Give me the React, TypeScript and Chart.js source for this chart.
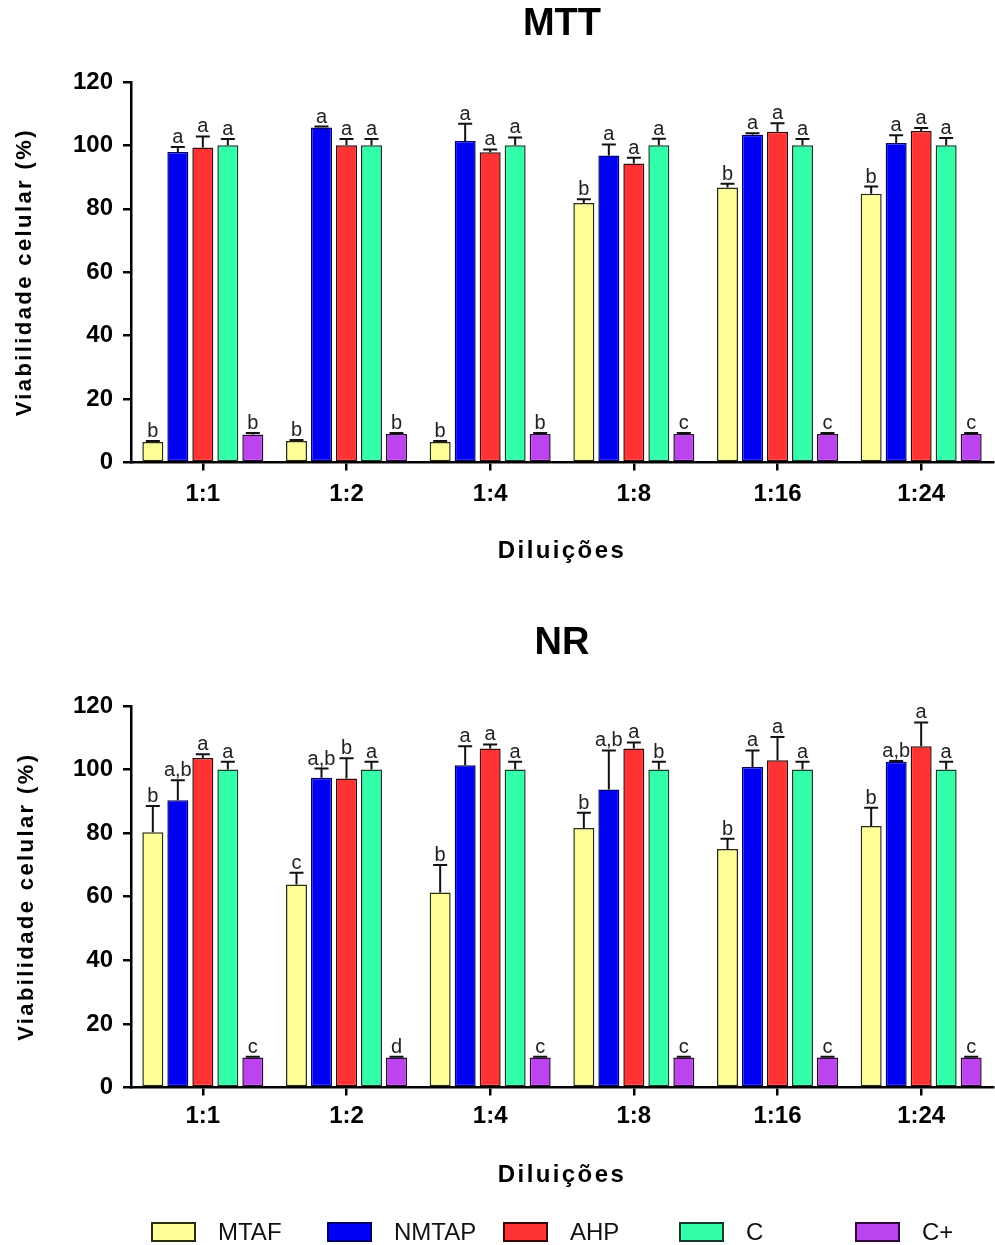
import React, { useEffect, useRef } from 'react';
import { Chart, registerables } from 'chart.js';

Chart.register(...registerables);

const FONT = "'Liberation Sans', Arial, Helvetica, sans-serif";
Chart.defaults.font.family = FONT;
Chart.defaults.color = '#000';

// ---------- data ----------
const categories = ['1:1', '1:2', '1:4', '1:8', '1:16', '1:24'];
const seriesNames = ['MTAF', 'NMTAP', 'AHP', 'C', 'C+'];
const seriesColors = ['#FFFF99', '#0000F2', '#FF3333', '#33FFAA', '#BB44EE'];
const seriesBorders = ['#2b2b10', '#000070', '#3a0808', '#143a28', '#2e0a3c'];

const yTicksMax = 120;
const yTicksStep = 20;

// MTT
const mttMTAF = [6.5, 6.8, 6.5, 81.8, 86.7, 84.7];
const mttMTAFErr = [0.3, 0.3, 0.3, 1.2, 1.2, 2.3];
const mttNMTAP = [97.9, 105.6, 101.4, 96.8, 103.3, 100.7];
const mttNMTAPErr = [1.6, 0.3, 5.4, 3.5, 0.5, 2.5];
const mttAHP = [99.3, 100, 97.8, 94.3, 104.3, 104.5];
const mttAHPErr = [3.5, 2, 0.9, 1.8, 2.7, 1];
const mttC = [100, 100, 100, 100, 100, 100];
const mttCErr = [2, 2, 2.5, 2.1, 2, 2.3];
const mttCPlus = [8.8, 9, 9, 9, 9, 9];
const mttCPlusErr = [0.5, 0.3, 0.3, 0.3, 0.3, 0.3];

const mttLetMTAF = ['b', 'b', 'b', 'b', 'b', 'b'];
const mttLetNMTAP = ['a', 'a', 'a', 'a', 'a', 'a'];
const mttLetAHP = ['a', 'a', 'a', 'a', 'a', 'a'];
const mttLetC = ['a', 'a', 'a', 'a', 'a', 'a'];
const mttLetCPlus = ['b', 'b', 'b', 'c', 'c', 'c'];

// NR
const nrMTAF = [80.3, 63.8, 61.3, 81.6, 75, 82.2];
const nrMTAFErr = [8.2, 3.7, 8.7, 4.8, 3.2, 5.8];
const nrNMTAP = [90.3, 97.4, 101.3, 93.7, 100.8, 102.4];
const nrNMTAPErr = [6.3, 2.9, 6, 12.3, 5.2, 0.3];
const nrAHP = [103.6, 97.2, 106.6, 106.6, 102.9, 107.3];
const nrAHPErr = [1.2, 6.3, 1.3, 1.9, 7.3, 7.5];
const nrC = [100, 100, 100, 100, 100, 100];
const nrCErr = [2.4, 2.4, 2.4, 2.4, 2.4, 2.4];
const nrCPlus = [9.4, 9.4, 9.4, 9.4, 9.4, 9.4];
const nrCPlusErr = [0.3, 0.3, 0.3, 0.3, 0.3, 0.3];

const nrLetMTAF = ['b', 'c', 'b', 'b', 'b', 'b'];
const nrLetNMTAP = ['a,b', 'a,b', 'a', 'a,b', 'a', 'a,b'];
const nrLetAHP = ['a', 'b', 'a', 'a', 'a', 'a'];
const nrLetC = ['a', 'a', 'a', 'b', 'a', 'a'];
const nrLetCPlus = ['c', 'd', 'c', 'c', 'c', 'c'];

const yTitle = 'Viabilidade celular (%)';
const xTitle = 'Diluições';

// ---------- plugins ----------
const errorBarPlugin = {
  id: 'errorBars',
  afterDatasetsDraw(chart: any) {
    const ctx = chart.ctx;
    const ys = chart.scales.y;
    chart.data.datasets.forEach((ds: any, i: number) => {
      const meta = chart.getDatasetMeta(i);
      meta.data.forEach((bar: any, j: number) => {
        const v = ds.data[j];
        const e = ds.errors[j];
        const top = ys.getPixelForValue(v + e);
        ctx.save();
        ctx.strokeStyle = '#111';
        ctx.lineWidth = 2;
        ctx.beginPath();
        ctx.moveTo(bar.x, bar.y);
        ctx.lineTo(bar.x, top);
        ctx.moveTo(bar.x - 7, top);
        ctx.lineTo(bar.x + 7, top);
        ctx.stroke();
        ctx.fillStyle = '#222';
        ctx.font = `20px ${FONT}`;
        ctx.textAlign = 'center';
        ctx.textBaseline = 'alphabetic';
        ctx.fillText(ds.letters[j], bar.x, top - 4);
        ctx.restore();
      });
    });
  },
};

const spacedTitlePlugin = {
  id: 'spacedTitles',
  beforeDraw(chart: any) {
    ['x', 'y'].forEach((k) => {
      const s = chart.scales[k];
      if (s && !s.__spaced) {
        const orig = s.drawTitle.bind(s);
        s.drawTitle = function () {
          const ctx = chart.ctx;
          const prev = ctx.letterSpacing;
          ctx.letterSpacing = '2.4px';
          orig();
          ctx.letterSpacing = prev || '0px';
        };
        s.__spaced = true;
      }
    });
  },
};

const columnLegendPlugin = {
  id: 'columnLegend',
  afterDraw(chart: any, _args: any, opts: any) {
    if (!opts || !opts.display) return;
    const ctx = chart.ctx;
    chart.data.datasets.forEach((ds: any, i: number) => {
      const x = opts.x0 + i * opts.step;
      const y = opts.y;
      ctx.save();
      ctx.fillStyle = ds.backgroundColor;
      ctx.fillRect(x, y, 43, 18);
      ctx.strokeStyle = ds.borderColor;
      ctx.lineWidth = 2;
      ctx.strokeRect(x, y, 43, 18);
      ctx.fillStyle = '#111';
      ctx.font = `24px ${FONT}`;
      ctx.textAlign = 'left';
      ctx.textBaseline = 'middle';
      ctx.fillText(ds.label, x + 43 + 23, y + 10);
      ctx.restore();
    });
  },
};

function makeDatasets(vals: number[][], errs: number[][], lets: string[][]) {
  return seriesNames.map((name, i) => ({
    label: name,
    data: vals[i],
    errors: errs[i],
    letters: lets[i],
    backgroundColor: seriesColors[i],
    borderColor: seriesBorders[i],
    borderWidth: 1.5,
    borderSkipped: false,
    categoryPercentage: 0.87,
    barPercentage: 0.84,
  }));
}

function makeConfig(
  title: string,
  datasets: any[],
  geom: {
    titlePadTop: number;
    titlePadBottom: number;
    xTickPad: number;
    xTitlePadTop: number;
    yTitlePad: number;
    layoutBottom: number;
    legend: any;
  }
) {
  return {
    type: 'bar',
    data: { labels: categories, datasets },
    plugins: [errorBarPlugin, spacedTitlePlugin, columnLegendPlugin],
    options: {
      animation: false,
      responsive: false,
      maintainAspectRatio: false,
      layout: { padding: { left: 0, right: 2, top: 0, bottom: geom.layoutBottom } },
      plugins: {
        legend: { display: false },
        tooltip: { enabled: false },
        title: {
          display: true,
          fullSize: false,
          text: title,
          color: '#000',
          font: { size: 38, weight: 'bold', family: FONT },
          padding: { top: geom.titlePadTop, bottom: geom.titlePadBottom },
        },
        columnLegend: geom.legend,
      },
      scales: {
        x: {
          offset: true,
          grid: {
            offset: false,
            drawOnChartArea: false,
            drawTicks: true,
            tickLength: 8,
            color: '#000',
            lineWidth: 2.5,
          },
          border: { display: true, color: '#000', width: 2.5 },
          ticks: {
            color: '#000',
            padding: geom.xTickPad,
            font: { size: 24, weight: 'bold', family: FONT },
          },
          title: {
            display: true,
            text: xTitle,
            color: '#000',
            font: { size: 24, weight: 'bold', family: FONT },
            padding: { top: geom.xTitlePadTop, bottom: 0 },
          },
        },
        y: {
          min: 0,
          max: yTicksMax,
          afterFit: (s: any) => {
            s.width = 131;
          },
          grid: {
            drawOnChartArea: false,
            drawTicks: true,
            tickLength: 8,
            color: '#000',
            lineWidth: 2.5,
          },
          border: { display: true, color: '#000', width: 2.5 },
          ticks: {
            stepSize: yTicksStep,
            color: '#000',
            padding: 10,
            font: { size: 24, weight: 'bold', family: FONT },
          },
          title: {
            display: true,
            text: yTitle,
            color: '#000',
            font: { size: 22, weight: 'bold', family: FONT },
            padding: { top: geom.yTitlePad, bottom: 0 },
          },
        },
      },
    },
  };
}

function ChartCanvas({ config, width, height, top }: any) {
  const ref = useRef<HTMLCanvasElement | null>(null);
  useEffect(() => {
    if (!ref.current) return;
    const chart = new Chart(ref.current, config);
    return () => chart.destroy();
  }, [config]);
  return (
    <canvas
      ref={ref}
      width={width}
      height={height}
      style={{ position: 'absolute', left: 0, top, width, height, display: 'block' }}
    />
  );
}

const mttConfig = makeConfig(
  'MTT',
  makeDatasets(
    [mttMTAF, mttNMTAP, mttAHP, mttC, mttCPlus],
    [mttMTAFErr, mttNMTAPErr, mttAHPErr, mttCErr, mttCPlusErr],
    [mttLetMTAF, mttLetNMTAP, mttLetAHP, mttLetC, mttLetCPlus]
  ),
  {
    titlePadTop: 1.3,
    titlePadBottom: 35,
    xTickPad: 9,
    xTitlePadTop: 19.3,
    yTitlePad: 12,
    layoutBottom: 14.6,
    legend: { display: false },
  }
);

const nrConfig = makeConfig(
  'NR',
  makeDatasets(
    [nrMTAF, nrNMTAP, nrAHP, nrC, nrCPlus],
    [nrMTAFErr, nrNMTAPErr, nrAHPErr, nrCErr, nrCPlusErr],
    [nrLetMTAF, nrLetNMTAP, nrLetAHP, nrLetC, nrLetCPlus]
  ),
  {
    titlePadTop: 40.8,
    titlePadBottom: 39.5,
    xTickPad: 6,
    xTitlePadTop: 24.3,
    yTitlePad: 14,
    layoutBottom: 55.6,
    legend: { display: true, x0: 152, step: 176, y: 643 },
  }
);

export default function App() {
  return (
    <div
      style={{
        position: 'absolute',
        left: 0,
        top: 0,
        width: 995,
        height: 1245,
        background: '#fff',
        overflow: 'hidden',
      }}
    >
      <ChartCanvas config={mttConfig} width={995} height={580} top={0} />
      <ChartCanvas config={nrConfig} width={995} height={665} top={580} />
    </div>
  );
}
